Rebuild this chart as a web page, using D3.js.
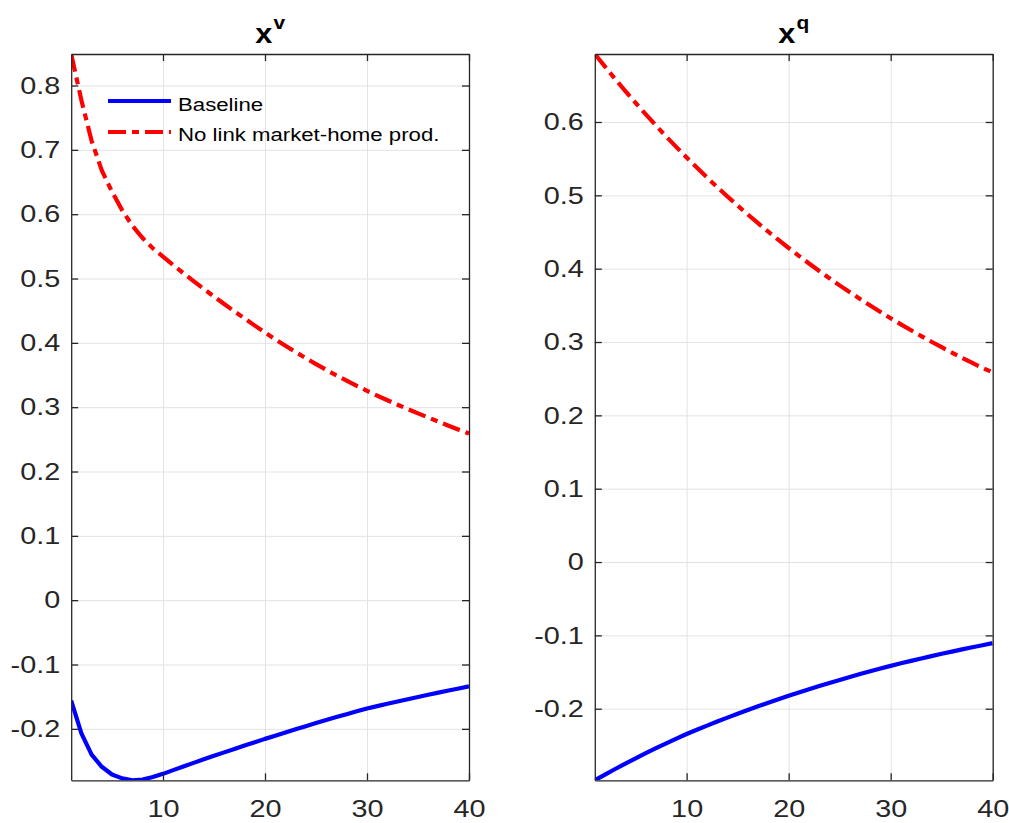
<!DOCTYPE html>
<html>
<head>
<meta charset="utf-8">
<script src="https://cdn.jsdelivr.net/npm/d3@7/dist/d3.min.js"></script>
<style>
  html, body { margin: 0; padding: 0; background: #fff; }
  svg { display: block; font-family: "Liberation Sans", Arial, Helvetica, sans-serif; }
</style>
</head>
<body>
<svg id="chart" width="1009" height="823"></svg>
<script>
// ---------------- data ----------------
const periods = d3.range(1, 41);
const seriesNames = ["Baseline", "No link market-home prod."];
const panelTitles = [{ base: "x", sup: "v" }, { base: "x", sup: "q" }];

const xvBaseline = [-0.156, -0.207, -0.240, -0.259, -0.271, -0.277, -0.280, -0.279, -0.275, -0.270,
  -0.2642, -0.2585, -0.2529, -0.2474, -0.2420, -0.2366, -0.2313, -0.2260, -0.2208, -0.2156,
  -0.2108, -0.2057, -0.2007, -0.1958, -0.1910, -0.1863, -0.1817, -0.1772, -0.1728, -0.1685,
  -0.1647, -0.1610, -0.1574, -0.1539, -0.1504, -0.1470, -0.1437, -0.1404, -0.1372, -0.1340];
const xvNoLink = [0.849, 0.777, 0.714, 0.668, 0.635, 0.606, 0.582, 0.563, 0.547, 0.534,
  0.5210, 0.5083, 0.4959, 0.4838, 0.4720, 0.4604, 0.4490, 0.4378, 0.4268, 0.4160,
  0.4056, 0.3955, 0.3857, 0.3762, 0.3670, 0.3581, 0.3495, 0.3412, 0.3332, 0.3255,
  0.3180, 0.3108, 0.3038, 0.2970, 0.2904, 0.2839, 0.2775, 0.2712, 0.2650, 0.2590];
const xqBaseline = [-0.2976, -0.2898, -0.2822, -0.2748, -0.2676, -0.2606, -0.2538, -0.2472, -0.2408, -0.2345,
  -0.2287, -0.2230, -0.2175, -0.2121, -0.2068, -0.2017, -0.1967, -0.1918, -0.1871, -0.1824,
  -0.1778, -0.1734, -0.1691, -0.1648, -0.1607, -0.1567, -0.1528, -0.1490, -0.1452, -0.1416,
  -0.1381, -0.1348, -0.1315, -0.1283, -0.1251, -0.1221, -0.1191, -0.1162, -0.1134, -0.1106];
const xqNoLink = [0.6927, 0.6754, 0.6585, 0.6421, 0.6260, 0.6103, 0.5951, 0.5802, 0.5657, 0.5515,
  0.5378, 0.5243, 0.5112, 0.4984, 0.4860, 0.4738, 0.4620, 0.4504, 0.4392, 0.4282,
  0.4175, 0.4070, 0.3968, 0.3869, 0.3772, 0.3678, 0.3587, 0.3497, 0.3410, 0.3324,
  0.3241, 0.3160, 0.3081, 0.3004, 0.2929, 0.2856, 0.2785, 0.2715, 0.2647, 0.2585];

const xTicks = [10, 20, 30, 40];
const yTicksLeft = [-0.2, -0.1, 0, 0.1, 0.2, 0.3, 0.4, 0.5, 0.6, 0.7, 0.8];
const yTicksRight = [-0.2, -0.1, 0, 0.1, 0.2, 0.3, 0.4, 0.5, 0.6];
const yTickLabelsLeft = ["-0.2", "-0.1", "0", "0.1", "0.2", "0.3", "0.4", "0.5", "0.6", "0.7", "0.8"];
const yTickLabelsRight = ["-0.2", "-0.1", "0", "0.1", "0.2", "0.3", "0.4", "0.5", "0.6"];

// ---------------- layout / style ----------------
const AX = "#262626";
const GRID = "#e3e3e3";
const BLUE = "#0000ff";
const RED = "#ff0000";
const SX = 1.2; // horizontal stretch of text in reference
const panels = [
  { left: 71.2, right: 469, top: 54, bottom: 780.3, base: xvBaseline, nolink: xvNoLink,
    yTicks: yTicksLeft, yLabels: yTickLabelsLeft, title: panelTitles[0], legend: true },
  { left: 594.8, right: 992.7, top: 54, bottom: 780.3, base: xqBaseline, nolink: xqNoLink,
    yTicks: yTicksRight, yLabels: yTickLabelsRight, title: panelTitles[1], legend: false }
];

const svg = d3.select("#chart");
svg.append("rect").attr("width", 1009).attr("height", 823).attr("fill", "#fff");

function stretchTexts(sel) {
  sel.selectAll("text").each(function () {
    const t = d3.select(this);
    const x = +t.attr("x") || 0;
    t.attr("x", 0).attr("transform", `translate(${x},0) scale(${SX},1)`);
  });
}

panels.forEach((p, i) => {
  const w = p.right - p.left, h = p.bottom - p.top;
  const allVals = p.base.concat(p.nolink);
  const x = d3.scaleLinear().domain([1, 40]).range([p.left, p.right]);
  const y = d3.scaleLinear().domain(d3.extent(allVals)).range([p.bottom, p.top]);

  const g = svg.append("g");

  // grid
  g.append("g").attr("transform", `translate(0,${p.bottom})`)
    .call(d3.axisBottom(x).tickValues(xTicks).tickSize(-h).tickFormat(""))
    .call(s => { s.select(".domain").remove(); s.selectAll("line").attr("stroke", GRID).attr("stroke-width", 1); });
  g.append("g").attr("transform", `translate(${p.left},0)`)
    .call(d3.axisLeft(y).tickValues(p.yTicks).tickSize(-w).tickFormat(""))
    .call(s => { s.select(".domain").remove(); s.selectAll("line").attr("stroke", GRID).attr("stroke-width", 1); });

  // clip
  const clipId = "clip" + i;
  svg.append("clipPath").attr("id", clipId).append("rect")
    .attr("x", p.left).attr("y", p.top).attr("width", w).attr("height", h);

  const line = d3.line().x((d, k) => x(periods[k])).y(d => y(d));
  const lines = g.append("g").attr("clip-path", `url(#${clipId})`);
  lines.append("path").datum(p.nolink).attr("d", line)
    .attr("fill", "none").attr("stroke", RED).attr("stroke-width", 4.2)
    .attr("stroke-dasharray", "18,6,7,6");
  lines.append("path").datum(p.base).attr("d", line)
    .attr("fill", "none").attr("stroke", BLUE).attr("stroke-width", 4.2)
    .attr("stroke-linejoin", "round");

  // axes (ticks inside, box on)
  const tl = 7;
  const axB = g.append("g").attr("transform", `translate(0,${p.bottom})`)
    .call(d3.axisBottom(x).tickValues(xTicks).tickSizeInner(-tl).tickSizeOuter(0).tickPadding(20).tickFormat(d3.format("d")));
  const axT = g.append("g").attr("transform", `translate(0,${p.top})`)
    .call(d3.axisTop(x).tickValues(xTicks).tickSizeInner(-tl).tickSizeOuter(0).tickFormat(""));
  const axL = g.append("g").attr("transform", `translate(${p.left},0)`)
    .call(d3.axisLeft(y).tickValues(p.yTicks).tickSizeInner(-tl).tickSizeOuter(0).tickPadding(11)
      .tickFormat((d, k) => p.yLabels[k]));
  const axR = g.append("g").attr("transform", `translate(${p.right},0)`)
    .call(d3.axisRight(y).tickValues(p.yTicks).tickSizeInner(-tl).tickSizeOuter(0).tickFormat(""));
  [axB, axT, axL, axR].forEach(a => {
    a.select(".domain").attr("stroke", AX).attr("stroke-width", 1.3);
    a.selectAll(".tick line").attr("stroke", AX).attr("stroke-width", 1.3);
    a.selectAll("text").attr("fill", AX).attr("font-size", 24)
      .attr("font-family", "'Liberation Sans', Arial, sans-serif");
  });
  stretchTexts(axB); stretchTexts(axL);

  // title
  const cx = (p.left + p.right) / 2;
  const tt = svg.append("text")
    .attr("transform", `translate(${cx},43) scale(1.1,1)`)
    .attr("text-anchor", "middle").attr("font-weight", "bold").attr("fill", "#000");
  tt.append("tspan").attr("font-size", 28).text(p.title.base);
  tt.append("tspan").attr("font-size", 19).attr("dy", -14).attr("dx", 1).text(p.title.sup);

  // legend
  if (p.legend) {
    const rows = [
      { name: seriesNames[0], color: BLUE, dash: null, ly: 101, ty: 110.5 },
      { name: seriesNames[1], color: RED, dash: "18,6,7,6", ly: 132, ty: 140.5 }
    ];
    rows.forEach(r => {
      svg.append("line").attr("x1", 108).attr("x2", 171).attr("y1", r.ly).attr("y2", r.ly)
        .attr("stroke", r.color).attr("stroke-width", 4.2)
        .attr("stroke-dasharray", r.dash);
      svg.append("text").attr("transform", `translate(178,${r.ty}) scale(${SX},1)`)
        .attr("font-size", 18.5).attr("fill", "#000").text(r.name);
    });
  }
});
</script>
</body>
</html>
